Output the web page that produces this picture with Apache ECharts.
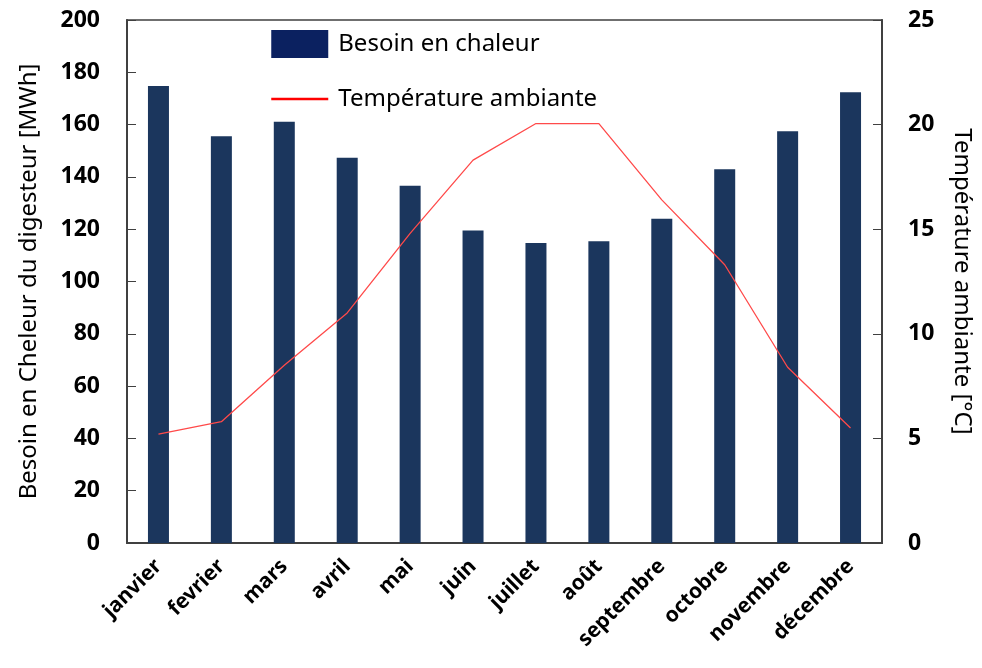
<!DOCTYPE html>
<html>
<head>
<meta charset="utf-8">
<script src="https://cdn.jsdelivr.net/npm/echarts@6/dist/echarts.min.js"></script>
<style>
  html, body { margin: 0; padding: 0; background: #ffffff; }
  #chart { width: 982px; height: 668px; }
</style>
</head>
<body>
<div id="chart"></div>
<script>
var mois = ['janvier', 'fevrier', 'mars', 'avril', 'mai', 'juin', 'juillet', 'août', 'septembre', 'octobre', 'novembre', 'décembre'];
var besoinChaleur = [174.8, 155.5, 161.1, 147.3, 136.6, 119.5, 114.7, 115.4, 124.0, 142.9, 157.5, 172.4];
var temperature = [5.2, 5.8, 8.5, 11.0, 14.8, 18.3, 20.05, 20.05, 16.4, 13.3, 8.4, 5.5];

var chart = echarts.init(document.getElementById('chart'), null, { renderer: 'canvas' });

var tickFont = {
  fontFamily: 'Noto Sans',
  fontWeight: 'bold',
  fontSize: 23,
  color: '#000000'
};

var option = {
  backgroundColor: '#ffffff',
  animation: false,
  grid: {
    left: 127,
    right: 96,
    top: 20,
    bottom: 125,
    show: true,
    borderColor: '#404040',
    borderWidth: 1.5
  },
  legend: {
    orient: 'vertical',
    left: 270,
    top: 30,
    padding: 0,
    itemWidth: 57,
    itemHeight: 28,
    itemGap: 29,
    textStyle: {
      fontFamily: 'Noto Sans',
      fontSize: 24,
      color: '#000000',
      padding: [0, 0, 0, 5]
    },
    data: [
      { name: 'Besoin en chaleur', icon: 'rect', itemStyle: { color: '#0b2160' } },
      {
        name: 'Température ambiante',
        lineStyle: { width: 2.5, color: '#ff0000' },
        itemStyle: { color: 'rgba(0,0,0,0)', borderWidth: 0 }
      }
    ]
  },
  xAxis: {
    type: 'category',
    data: mois,
    boundaryGap: true,
    axisLine: { lineStyle: { color: '#404040', width: 2 } },
    axisTick: { show: false },
    axisLabel: Object.assign({ rotate: 45, interval: 0, margin: 20 }, tickFont, { fontSize: 21 })
  },
  yAxis: [
    {
      type: 'value',
      min: 0,
      max: 200,
      interval: 20,
      name: 'Besoin en Cheleur du digesteur [MWh]',
      nameLocation: 'middle',
      nameGap: 86,
      nameTextStyle: { fontFamily: 'Noto Sans', fontSize: 24, color: '#000000' },
      axisLine: { show: true, lineStyle: { color: '#404040', width: 2 } },
      axisTick: { show: true, inside: true, length: 9, lineStyle: { color: '#404040' } },
      splitLine: { show: false },
      axisLabel: Object.assign({ margin: 27 }, tickFont)
    },
    {
      type: 'value',
      min: 0,
      max: 25,
      interval: 5,
      position: 'right',
      name: 'Température ambiante [°C]',
      nameLocation: 'middle',
      nameRotate: -90,
      nameGap: 68,
      nameTextStyle: { fontFamily: 'Noto Sans', fontSize: 24, color: '#000000' },
      axisLine: { show: true, lineStyle: { color: '#404040', width: 2 } },
      axisTick: { show: true, inside: true, length: 9, lineStyle: { color: '#404040' } },
      splitLine: { show: false },
      axisLabel: Object.assign({ margin: 26 }, tickFont)
    }
  ],
  series: [
    {
      name: 'Besoin en chaleur',
      type: 'bar',
      data: besoinChaleur,
      barWidth: 21,
      itemStyle: { color: '#1b365d' }
    },
    {
      name: 'Température ambiante',
      type: 'line',
      yAxisIndex: 1,
      data: temperature,
      symbol: 'none',
      itemStyle: { color: '#ff4a4a' },
      lineStyle: { color: '#ff4a4a', width: 1.3 }
    }
  ]
};

chart.setOption(option);
</script>
</body>
</html>
